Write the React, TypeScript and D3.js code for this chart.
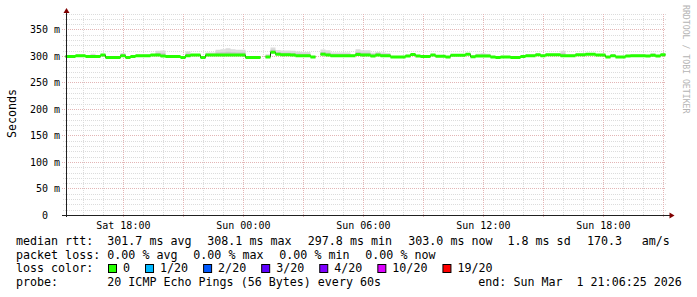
import React from "react";
import * as d3 from "d3";

// ---- data -------------------------------------------------------------
const END_UTC = Date.UTC(2026, 2, 1, 21, 6, 25);
const SPAN_HOURS = 30;
const BIN_MINUTES = 15;

// median RTT per 15-minute bin (ms); null = no data
const medianMs: (number | null)[] = [
  300, 300, 301.5, 301.5, 300, 300, 300, 302.5, 298, 298,
  298, 301.5, 298, 300, 301.5, 301.5, 301.5, 302.5, 302.5, 301,
  300, 300, 300, 298, 301.5, 302.5, 302.5, 298, 302.5, 302.5,
  302.5, 302.5, 302.5, 302.5, 302.5, 302.5, 298, 298, 298, null,
  299, 308, 304, 303, 303, 302.5, 301.5, 301.5, 301.5, 299,
  null, 304, 302.5, 301.5, 301.5, 301.5, 301.5, 301.5, 303.5, 302.5,
  302.5, 301, 302.5, 301.5, 301.5, 299, 299, 299, 301, 303.5,
  301, 300, 300, 302.5, 300.5, 300.5, 299, 302, 302, 302,
  304, 299.5, 301, 301, 301, 299, 298, 299, 299, 298,
  298, 300, 301.5, 301.5, 303, 301.5, 303, 303, 303, 301.5,
  301.5, 301.5, 303, 303, 304, 304, 302.5, 302.5, 299, 301.5,
  299, 299, 301, 301.5, 301.5, 301.5, 301, 302, 301, 303,
];

// spread of the slowest pings above the median per bin (ms)
const smokeSpreadMs: number[] = [
  2, 2, 2, 2, 2, 5, 2, 2, 2, 2,
  2, 5, 2, 2, 2, 2, 2, 2, 8, 10,
  2, 2, 2, 2, 8, 2, 2, 2, 5, 5,
  10, 11, 13, 11, 10, 10, 2, 2, 2, 0,
  5, 9, 8, 8, 8, 8, 8, 7, 7, 2,
  0, 9, 9, 6, 6, 6, 6, 2, 10, 9,
  9, 6, 6, 6, 5, 2, 2, 2, 2, 2,
  2, 2, 2, 2, 2, 2, 2, 2, 2, 2,
  2, 2, 4, 5, 4, 2, 2, 2, 2, 2,
  2, 2, 2, 2, 2, 2, 2, 2, 2, 9,
  2, 2, 2, 2, 2, 2, 2, 2, 2, 2,
  2, 2, 2, 2, 2, 2, 2, 4, 2, 2,
];

const yMax = 380;
const yLabelTicks = [0, 50, 100, 150, 200, 250, 300, 350];

const lossLabels = ["0", "1/20", "2/20", "3/20", "4/20", "10/20", "19/20"];
const lossColors = ["#26ff00", "#00b8ff", "#0059ff", "#5e00ff", "#7e00ff", "#dd00ff", "#ff0000"];

const rttItems = ["median rtt:", "301.7 ms avg", "308.1 ms max", "297.8 ms min", "303.0 ms now", "1.8 ms sd", "170.3", "am/s"];
const lossItems = ["packet loss:", "0.00 % avg", "0.00 % max", "0.00 % min", "0.00 % now"];
const probeItems = ["probe:", "20 ICMP Echo Pings (56 Bytes) every 60s", "end: Sun Mar  1 21:06:25 2026"];

// ---- layout -------------------------------------------------------------
const W = 697;
const H = 297;
const X0 = 65.5;
const X1 = 665.5;
const Y0 = 215.5;
const YTOP = 14;
const MONO = "'DejaVu Sans Mono', monospace";
const LEG_FS = 11.66;
const CHAR_W = 7.02;

const rttX = [16, 107.3, 207.3, 307.8, 408.3, 507.5, 587, 641.7];
const lossX = [16, 107.3, 193.3, 279.3, 365.3];
const probeX = [16, 107.3, 478.3];
const lineY = [245, 258.7, 272.4, 286];

export default function App() {
  const start = END_UTC - SPAN_HOURS * 3600 * 1000;
  const x = d3.scaleUtc().domain([new Date(start), new Date(END_UTC)]).range([X0, X1]);
  const y = d3.scaleLinear().domain([0, yMax]).range([Y0, YTOP]);
  const snap = (v: number) => Math.round(v - 0.5) + 0.5;

  type P = { t: Date; m: number | null; s: number };
  const pts: P[] = [];
  medianMs.forEach((m, i) => {
    const t0 = new Date(start + i * BIN_MINUTES * 60000);
    const t1 = new Date(start + (i + 1) * BIN_MINUTES * 60000);
    pts.push({ t: t0, m, s: smokeSpreadMs[i] });
    pts.push({ t: t1, m, s: smokeSpreadMs[i] });
  });
  const def = (p: P) => p.m !== null;
  const halfBand = 1.5 / (y(0) - y(1));

  const smokeOuter = d3.area<P>().defined(def).x((p) => x(p.t)).y0((p) => y(p.m as number)).y1((p) => y((p.m as number) + p.s))(pts) || "";
  const smokeInner = d3.area<P>().defined(def).x((p) => x(p.t)).y0((p) => y(p.m as number)).y1((p) => y((p.m as number) + p.s * 0.5))(pts) || "";
  const band = d3.area<P>().defined(def).x((p) => x(p.t)).y0((p) => y((p.m as number) - halfBand)).y1((p) => y((p.m as number) + halfBand))(pts) || "";
  const medLine = d3.line<P>().defined(def).x((p) => x(p.t)).y((p) => y(p.m as number))(pts) || "";

  const minorY = d3.range(0, yMax + 1, 10).filter((v) => v % 50 !== 0);
  const majorY = d3.range(0, yMax + 1, 50);
  const hours = d3.utcHour.range(new Date(start), new Date(END_UTC));
  const minorX = hours.filter((h) => h.getUTCHours() % 3 !== 0);
  const majorX = hours.filter((h) => h.getUTCHours() % 3 === 0);
  const labelX = hours.filter((h) => h.getUTCHours() % 6 === 0);
  const fmt = d3.utcFormat("%a %H:%M");

  const lossLegend: { box: number; label: number }[] = [];
  let lx = 123;
  lossLabels.forEach((l) => {
    lossLegend.push({ box: lx - 15, label: lx });
    lx += l.length * CHAR_W + 30;
  });

  const arrow = "#800000";
  const axisCol = "#202020";
  const minorCol = "#dcdcdc";
  const majorCol = "#e3b5b5";

  return (
    <svg width={W} height={H} style={{ position: "absolute", left: 0, top: 0, background: "#fff" }}>
      <rect width={W} height={H} fill="#fff" />
      {minorY.map((v) => (
        <line key={"my" + v} x1={63} x2={666} y1={snap(y(v))} y2={snap(y(v))} stroke={minorCol} strokeDasharray="1,1" />
      ))}
      {minorX.map((h) => (
        <line key={"mx" + +h} x1={snap(x(h))} x2={snap(x(h))} y1={YTOP} y2={216} stroke={minorCol} strokeDasharray="1,1" />
      ))}
      {majorY.map((v) => (
        <line key={"My" + v} x1={62} x2={666} y1={snap(y(v))} y2={snap(y(v))} stroke={majorCol} strokeDasharray="1,1" />
      ))}
      {majorX.map((h) => (
        <line key={"Mx" + +h} x1={snap(x(h))} x2={snap(x(h))} y1={YTOP} y2={218} stroke={majorCol} strokeDasharray="1,1" />
      ))}

      <path d={smokeOuter} fill="#dcdcdc" />
      <path d={smokeInner} fill="#c6c6c6" />
      <path d={medLine} fill="none" stroke="#202020" strokeWidth={1} />
      <path d={band} fill={lossColors[0]} />

      <line x1={66.5} x2={66.5} y1={217} y2={12} stroke={axisCol} />
      <polygon points="63.5,13 69.5,13 66.5,8" fill={arrow} />
      <line x1={62} x2={670} y1={215.5} y2={215.5} stroke={axisCol} />
      <polygon points="669.5,212.5 669.5,218.5 674.5,215.5" fill={arrow} />

      {yLabelTicks.map((v) => (
        <g key={"yl" + v} fontFamily={MONO} fontSize={10} fill="#000">
          <text x={48} y={snap(y(v)) + 3.5} textAnchor="end">{v}</text>
          {v !== 0 && <text x={54} y={snap(y(v)) + 3.5}>m</text>}
        </g>
      ))}
      {labelX.map((h) => (
        <text key={"xl" + +h} x={x(h)} y={228.5} textAnchor="middle" fontFamily={MONO} fontSize={10} fill="#000">
          {fmt(h)}
        </text>
      ))}

      <text transform="translate(16,113.5) rotate(-90)" textAnchor="middle" fontFamily={MONO} fontSize={LEG_FS} fill="#000">
        Seconds
      </text>
      <text transform="translate(683,5) rotate(90)" fontFamily={MONO} fontSize={8.2} fill="#b4b4b4">
        RRDTOOL / TOBI OETIKER
      </text>

      <g fontFamily={MONO} fontSize={LEG_FS} fill="#000">
        {rttItems.map((s, i) => (
          <text key={"r" + i} x={rttX[i]} y={lineY[0]} xmlSpace="preserve" style={{ whiteSpace: "pre" }}>{s}</text>
        ))}
        {lossItems.map((s, i) => (
          <text key={"l" + i} x={lossX[i]} y={lineY[1]} xmlSpace="preserve" style={{ whiteSpace: "pre" }}>{s}</text>
        ))}
        <text x={16} y={lineY[2]}>loss color:</text>
        {lossLegend.map((p, i) => (
          <g key={"lc" + i}>
            <rect x={p.box + 0.5} y={264.5} width={8} height={8} fill={lossColors[i]} stroke="#000" />
            <text x={p.label} y={lineY[2]}>{lossLabels[i]}</text>
          </g>
        ))}
        {probeItems.map((s, i) => (
          <text key={"p" + i} x={probeX[i]} y={lineY[3]} xmlSpace="preserve" style={{ whiteSpace: "pre" }}>{s}</text>
        ))}
      </g>
    </svg>
  );
}
